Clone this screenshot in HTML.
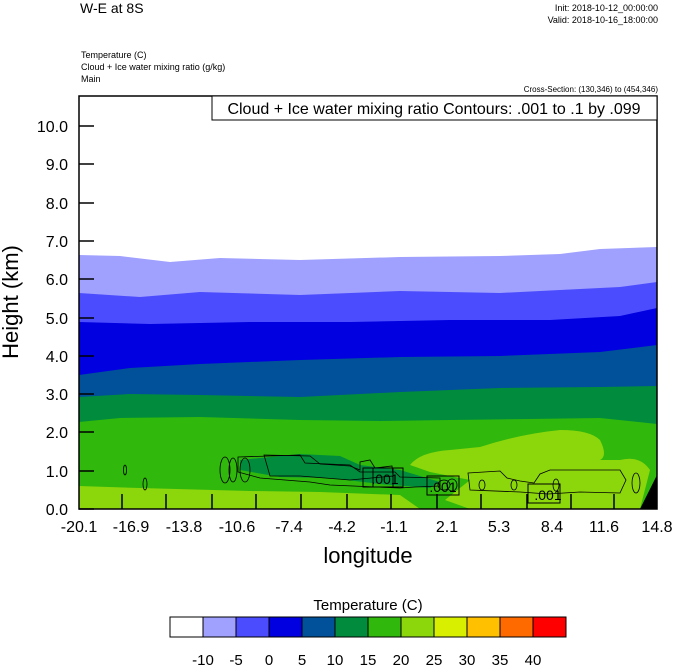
<!DOCTYPE html>
<html><head><style>
body{margin:0;background:#fff;width:674px;height:667px;overflow:hidden;font-family:"Liberation Sans",sans-serif;}
</style></head><body>
<svg width="674" height="667" xmlns="http://www.w3.org/2000/svg" font-family="Liberation Sans, sans-serif">
<rect width="674" height="667" fill="#fff"/>
<text x="80" y="13" font-size="14">W-E at 8S</text>
<text x="658" y="11" font-size="9" text-anchor="end">Init: 2018-10-12_00:00:00</text>
<text x="658" y="23" font-size="9" text-anchor="end">Valid: 2018-10-16_18:00:00</text>
<text x="81" y="58" font-size="9">Temperature   (C)</text>
<text x="81" y="70" font-size="9">Cloud + Ice water mixing ratio   (g/kg)</text>
<text x="81" y="82" font-size="9">Main</text>
<text x="658" y="92" font-size="8" text-anchor="end">Cross-Section: (130,346) to (454,346)</text>
<clipPath id="c"><rect x="79" y="96" width="578" height="413"/></clipPath>
<g clip-path="url(#c)">
<rect x="79" y="96" width="578" height="413" fill="#fff"/>
<path d="M79,255 L120,256 L170,262 L220,258 L300,260 L400,257 L500,256 L560,254 L600,249 L657,247 L657,509 L79,509Z" fill="#a0a0ff"/>
<path d="M79,293 L140,297 L200,292 L300,295 L400,291 L500,293 L560,290 L620,287 L657,282 L657,509 L79,509Z" fill="#4c4cff"/>
<path d="M79,322 L150,324 L250,322 L350,322 L450,320 L550,320 L620,316 L657,308 L657,509 L79,509Z" fill="#0000e0"/>
<path d="M79,375 L130,368 L200,364 L300,360 L400,357 L500,356 L600,352 L657,345 L657,509 L79,509Z" fill="#00509a"/>
<path d="M79,397 L130,394 L200,395 L300,397 L400,392 L500,388 L600,387 L657,386 L657,509 L79,509Z" fill="#008c3c"/>
<path d="M79,422 L120,418 L200,417 L300,420 L380,421 L450,420 L530,419 L600,418 L657,424 L657,509 L79,509Z" fill="#30b80c"/>
<path d="M79,486 L140,488 L250,491 L320,492 L400,495 L420,509 L79,509Z" fill="#8cd60c"/>
<path d="M410,465 Q420,452 450,450 L480,447 Q520,434 560,430 Q590,430 600,440 Q608,456 600,460 L620,460 Q640,455 650,470 L640,509 L470,509 L445,500 L470,480 L430,472Z" fill="#8cd60c"/>
<path d="M240,460 L300,454 L340,456 L360,465 L400,470 L440,482 L430,488 L380,484 L330,478 L280,477 L240,470Z" fill="#008c3c"/>
<path d="M657,475 L640,509 L657,509Z" fill="#000"/>
<g fill="none" stroke="#000" stroke-width="0.8">
<path d="M238,457 L300,455 L305,463 L350,465 L360,472 L395,472 L400,477 L440,478 L440,486 L415,487 L400,488 L330,485 L310,482 L260,478 L238,472Z"/>
<path d="M264,455 L310,456 L320,464 L350,466 L360,470 L360,462 L370,460 L375,468 L392,466 L393,476 L350,480 L300,476 L270,476 Z"/>
<path d="M468,473 L500,471 L507,478 L520,481 L534,483 L540,474 L550,470 L620,470 L626,480 L620,493 L580,492 L548,494 L520,492 L470,490Z"/>
<ellipse cx="225" cy="470" rx="5" ry="13"/><ellipse cx="233" cy="470" rx="4" ry="12"/>
<ellipse cx="245" cy="470" rx="5" ry="12"/><ellipse cx="145" cy="484" rx="2" ry="6"/>
<ellipse cx="125" cy="470" rx="1.5" ry="5"/><ellipse cx="444" cy="485" rx="6" ry="5"/>
<ellipse cx="452" cy="485" rx="5" ry="6"/><ellipse cx="482" cy="485" rx="3" ry="5"/>
<ellipse cx="514" cy="485" rx="3" ry="5"/><ellipse cx="556" cy="485" rx="3" ry="6"/>
<ellipse cx="636" cy="483" rx="4" ry="10"/>
</g>
<g font-size="14" text-anchor="middle">
<rect x="363" y="468" width="30" height="19" fill="none" stroke="#000"/><text x="385" y="484">.001</text>
<rect x="373" y="468" width="30" height="19" fill="none" stroke="#000"/>
<rect x="427" y="476" width="32" height="19" fill="none" stroke="#000"/><text x="443" y="492">.001</text>
<rect x="528" y="484" width="32" height="19" fill="none" stroke="#000"/><text x="548" y="500">.001</text>
</g>
</g>
<rect x="79" y="96" width="578" height="413" fill="none" stroke="#000" stroke-width="1.5"/>
<rect x="212" y="96" width="445" height="24" fill="#fff" stroke="#000" stroke-width="1"/>
<text x="434" y="114" font-size="16" text-anchor="middle">Cloud + Ice water mixing ratio Contours: .001 to .1 by .099</text>
<g stroke="#000" stroke-width="1.5">
<line x1="79" y1="509" x2="94" y2="509"/><line x1="79" y1="471" x2="94" y2="471"/><line x1="79" y1="432" x2="94" y2="432"/><line x1="79" y1="394" x2="94" y2="394"/><line x1="79" y1="356" x2="94" y2="356"/><line x1="79" y1="318" x2="94" y2="318"/><line x1="79" y1="279" x2="94" y2="279"/><line x1="79" y1="241" x2="94" y2="241"/><line x1="79" y1="203" x2="94" y2="203"/><line x1="79" y1="164" x2="94" y2="164"/><line x1="79" y1="126" x2="94" y2="126"/>
<line x1="122" y1="509" x2="122" y2="494"/><line x1="166" y1="509" x2="166" y2="494"/><line x1="212" y1="509" x2="212" y2="494"/><line x1="256" y1="509" x2="256" y2="494"/><line x1="301" y1="509" x2="301" y2="494"/><line x1="347" y1="509" x2="347" y2="494"/><line x1="391" y1="509" x2="391" y2="494"/><line x1="437" y1="509" x2="437" y2="494"/><line x1="481" y1="509" x2="481" y2="494"/><line x1="527" y1="509" x2="527" y2="494"/><line x1="571" y1="509" x2="571" y2="494"/><line x1="614" y1="509" x2="614" y2="494"/>
</g>
<g font-size="16" text-anchor="end">
<text x="68" y="515">0.0</text><text x="68" y="477">1.0</text><text x="68" y="438">2.0</text><text x="68" y="400">3.0</text><text x="68" y="362">4.0</text><text x="68" y="324">5.0</text><text x="68" y="285">6.0</text><text x="68" y="247">7.0</text><text x="68" y="209">8.0</text><text x="68" y="170">9.0</text><text x="68" y="132">10.0</text>
</g>
<g font-size="16" text-anchor="middle">
<text x="79" y="532">-20.1</text><text x="131" y="532">-16.9</text><text x="184" y="532">-13.8</text><text x="237" y="532">-10.6</text><text x="289" y="532">-7.4</text><text x="342" y="532">-4.2</text><text x="394" y="532">-1.1</text><text x="447" y="532">2.1</text><text x="499" y="532">5.3</text><text x="552" y="532">8.4</text><text x="604" y="532">11.6</text><text x="657" y="532">14.8</text>
</g>
<text x="368" y="563" font-size="22" text-anchor="middle">longitude</text>
<text transform="translate(18,302) rotate(-90)" font-size="22" text-anchor="middle">Height (km)</text>
<text x="368" y="610" font-size="15" text-anchor="middle">Temperature  (C)</text>
<g stroke="#000" stroke-width="1">
<rect x="170" y="617" width="33" height="20" fill="#fff"/><rect x="203" y="617" width="33" height="20" fill="#a0a0ff"/><rect x="236" y="617" width="33" height="20" fill="#4c4cff"/><rect x="269" y="617" width="33" height="20" fill="#0000e0"/><rect x="302" y="617" width="33" height="20" fill="#00509a"/><rect x="335" y="617" width="33" height="20" fill="#008c3c"/><rect x="368" y="617" width="33" height="20" fill="#30b80c"/><rect x="401" y="617" width="33" height="20" fill="#8cd60c"/><rect x="434" y="617" width="33" height="20" fill="#d8f000"/><rect x="467" y="617" width="33" height="20" fill="#ffc000"/><rect x="500" y="617" width="33" height="20" fill="#ff6a00"/><rect x="533" y="617" width="33" height="20" fill="#ff0000"/>
</g>
<g font-size="15" text-anchor="middle">
<text x="203" y="665">-10</text><text x="236" y="665">-5</text><text x="269" y="665">0</text><text x="302" y="665">5</text><text x="335" y="665">10</text><text x="368" y="665">15</text><text x="401" y="665">20</text><text x="434" y="665">25</text><text x="467" y="665">30</text><text x="500" y="665">35</text><text x="533" y="665">40</text>
</g>
</svg>
</body></html>
